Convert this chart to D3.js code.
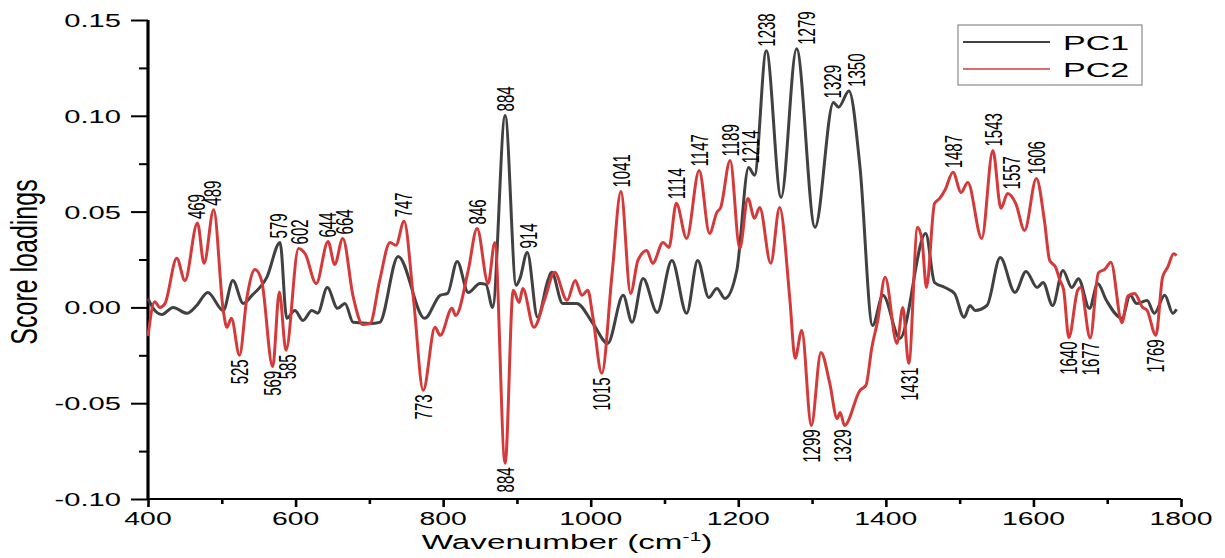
<!DOCTYPE html>
<html>
<head>
<meta charset="utf-8">
<script src="https://cdn.jsdelivr.net/npm/d3@7"></script>
<style>
  html, body { margin: 0; padding: 0; background: #fff; }
  svg { display: block; font-family: "Liberation Sans", Arial, sans-serif; }
</style>
</head>
<body>
<svg id="chart" width="1225" height="558"></svg>
<script>
// Loadings of the first two principal components across the spectrum
const pc1Points = [
  [400,0.0047],[407,-0.0005],[419,-0.0037],[434,0.0],[453,-0.0031],[466,0.001],[481,0.0078],
  [502,-0.0016],[515,0.0141],[529,0.0021],[541,0.0063],[561,0.0157],[579,0.0339],[588,-0.0057],
  [599,-0.0016],[610,-0.0068],[622,-0.0016],[630,-0.003],[643,0.0104],[657,-0.0005],[667,0.0021],
  [678,-0.0078],[701,-0.0084],[714,-0.0078],[739,0.0266],[775,-0.0057],[796,0.0063],[806,0.0073],
  [819,0.024],[834,0.0078],[850,0.0125],[858,0.012],[867,0.0],[884,0.1002],[899,0.0115],[904,0.015],
  [914,0.0287],[928,-0.0052],[942,0.0141],[947,0.0183],[962,0.0021],[981,0.0021],[1003,-0.0084],
  [1023,-0.0188],[1044,0.0063],[1056,-0.0078],[1071,0.0151],[1090,-0.0026],[1110,0.0245],
  [1130,-0.0031],[1145,0.0245],[1160,0.0052],[1171,0.0099],[1182,0.0047],[1198,0.0193],
  [1214,0.073],[1222,0.069],[1238,0.134],[1258,0.0574],[1279,0.135],[1304,0.0418],[1329,0.107],
  [1336,0.1045],[1350,0.113],[1365,0.073],[1382,-0.0094],[1396,0.0063],[1419,-0.0162],[1454,0.0386],
  [1466,0.013],[1480,0.0104],[1493,0.0073],[1506,-0.0052],[1514,0.001],[1521,-0.0016],[1537,0.001],
  [1555,0.026],[1575,0.0078],[1590,0.0188],[1605,0.0104],[1613,0.013],[1626,0.001],[1640,0.0193],
  [1652,0.0104],[1661,0.015],[1676,-0.0005],[1687,0.0125],[1699,0.0036],[1720,-0.0057],[1731,0.0063],
  [1740,0.002],[1754,0.0036],[1764,-0.0031],[1778,0.0063],[1789,-0.0031],[1794,-0.001]
];

const pc2Points = [
  [400,-0.015],[409,0.003],[416,0.0],[423,0.002],[439,0.0256],[450,0.014],[467,0.044],[476,0.023],
  [489,0.051],[502,-0.0016],[507,-0.0104],[513,-0.0057],[524,-0.025],[534,0.005],[545,0.0198],
  [554,0.014],[569,-0.031],[578,0.008],[587,-0.0224],[604,0.0308],[613,0.028],[628,0.0125],
  [644,0.0344],[653,0.0224],[664,0.036],[678,0.0057],[691,-0.0089],[701,-0.0084],[714,0.0141],
  [728,0.0339],[736,0.0324],[747,0.0449],[760,0.0037],[773,-0.0433],[789,-0.0104],[796,-0.0146],
  [812,-0.0005],[817,-0.0042],[834,0.0193],[846,0.0412],[861,0.0125],[870,0.0339],[884,-0.0814],
  [895,0.0089],[903,0.0026],[908,0.0099],[923,-0.0104],[938,0.0047],[951,0.0183],[968,0.0037],
  [979,0.0141],[988,0.0063],[996,0.0089],[1003,-0.0052],[1015,-0.0344],[1029,0.0177],[1041,0.0605],
  [1054,0.0073],[1064,0.0245],[1076,0.0297],[1084,0.023],[1098,0.0339],[1106,0.0313],[1116,0.0543],
  [1130,0.036],[1147,0.0715],[1161,0.0386],[1171,0.0496],[1176,0.052],[1189,0.0767],[1202,0.0308],
  [1213,0.0569],[1222,0.0465],[1229,0.0522],[1244,0.023],[1256,0.0522],[1270,0.0037],[1277,-0.0266],
  [1286,-0.012],[1299,-0.0616],[1312,-0.0235],[1324,-0.0397],[1334,-0.058],[1338,-0.0548],
  [1344,-0.0616],[1365,-0.0433],[1373,-0.0407],[1381,-0.0209],[1389,-0.0068],[1399,0.0157],
  [1415,-0.0188],[1423,0.0],[1431,-0.0292],[1443,0.0418],[1449,0.035],[1455,0.0104],[1466,0.0543],
  [1473,0.0569],[1480,0.0611],[1491,0.0705],[1502,0.06],[1511,0.0652],[1530,0.036],[1545,0.0819],
  [1556,0.0517],[1565,0.0595],[1576,0.0543],[1588,0.0402],[1604,0.0673],[1615,0.045],[1622,0.0245],
  [1630,0.021],[1636,0.014],[1641,0.009],[1648,-0.0157],[1660,0.009],[1664,0.0104],[1677,-0.016],
  [1688,0.018],[1697,0.02],[1705,0.0235],[1720,-0.008],[1728,0.006],[1737,0.0073],[1748,0.0],
  [1754,-0.0016],[1766,-0.0146],[1775,0.0157],[1782,0.021],[1790,0.028],[1794,0.027]
];

// Peak annotations: [text, wavenumber where the label sits, series]
const pc1PeakLabels = [
  ["579",577,"pc1"],["884",884,"pc1"],["914",916,"pc1"],["1214",1217,"pc1"],["1238",1239,"pc1"],
  ["1279",1292,"pc1"],["1329",1328,"pc1"],["1350",1360,"pc1"]
];
const pc2PeakLabels = [
  ["469",466,"pc2"],["489",488,"pc2"],["602",605,"pc2"],["644",644,"pc2"],["664",666,"pc2"],
  ["747",747,"pc2"],["846",846,"pc2"],["1041",1042,"pc2"],["1114",1117,"pc2"],["1147",1147,"pc2"],
  ["1189",1190,"pc2"],["1487",1492,"pc2"],["1543",1546,"pc2"],["1557",1570,"pc2"],["1606",1604,"pc2"]
];
const pc2TroughLabels = [
  ["525",524,"pc2"],["569",569,"pc2"],["585",589,"pc2"],["773",773,"pc2"],["884",884,"pc2"],
  ["1015",1015,"pc2"],["1299",1299,"pc2"],["1329",1341,"pc2"],["1431",1432,"pc2"],
  ["1640",1648,"pc2"],["1677",1677,"pc2"],["1769",1766,"pc2"]
];

const xMajorTicks = [400, 600, 800, 1000, 1200, 1400, 1600, 1800];
const xMinorTicks = [500, 700, 900, 1100, 1300, 1500, 1700];
const yMajorTicks = [-0.10, -0.05, 0.00, 0.05, 0.10, 0.15];
const yMinorTicks = [-0.075, -0.025, 0.025, 0.075, 0.125];
const seriesNames = ["PC1", "PC2"];

const COLORS = { pc1: "#414141", pc2: "#d53a3b" };
const SX = 1.62; // horizontal glyph stretch used for every text

const svg = d3.select("#chart");
const x = d3.scaleLinear().domain([400, 1800]).range([148, 1181]);
const y = d3.scaleLinear().domain([-0.10, 0.15]).range([499, 20]);

// ---- axes ----
const axisG = svg.append("g");
const xAxisG = axisG.append("g").attr("transform", `translate(0,${y(-0.10)})`);
xAxisG.call(d3.axisBottom(x).tickValues(xMajorTicks).tickSize(8).tickFormat(""));
xAxisG.append("g").call(d3.axisBottom(x).tickValues(xMinorTicks).tickSize(5).tickFormat(""));
xAxisG.selectAll(".domain").remove();
xAxisG.selectAll(".tick line").attr("stroke", "#000").attr("stroke-width", 2.6);
axisG.append("line")
  .attr("x1", x(400)).attr("x2", x(1800)).attr("y1", y(-0.10)).attr("y2", y(-0.10))
  .attr("stroke", "#000").attr("stroke-width", 2);

const yAxisG = axisG.append("g").attr("transform", `translate(${x(400)},0)`);
yAxisG.call(d3.axisLeft(y).tickValues(yMajorTicks).tickSize(17).tickFormat(""));
yAxisG.append("g").call(d3.axisLeft(y).tickValues(yMinorTicks).tickSize(9).tickFormat(""));
yAxisG.selectAll(".domain").remove();
yAxisG.selectAll(".tick line").attr("stroke", "#000").attr("stroke-width", 2);
axisG.append("line")
  .attr("x1", x(400)).attr("x2", x(400)).attr("y1", y(0.15)).attr("y2", y(-0.10) + 1)
  .attr("stroke", "#000").attr("stroke-width", 3.2);

// tick labels
axisG.selectAll(".xlab").data(xMajorTicks).join("text")
  .attr("class", "xlab")
  .attr("transform", d => `translate(${x(d)},525) scale(${SX},1)`)
  .attr("text-anchor", "middle").attr("font-size", 17.5).attr("fill", "#000")
  .text(d => d);
axisG.selectAll(".ylab").data(yMajorTicks).join("text")
  .attr("class", "ylab")
  .attr("transform", d => `translate(121,${y(d) + 7}) scale(${SX},1)`)
  .attr("text-anchor", "end").attr("font-size", 18).attr("fill", "#000")
  .text(d => d.toFixed(2));

// axis titles
const xTitle = svg.append("text")
  .attr("transform", `translate(567,549) scale(${SX},1)`)
  .attr("text-anchor", "middle").attr("font-size", 20.5).attr("fill", "#000");
xTitle.append("tspan").text("Wavenumber (cm");
xTitle.append("tspan").attr("font-size", 13).attr("dy", -8).text("-1");
xTitle.append("tspan").attr("dy", 8).text(")");

svg.append("text")
  .attr("transform", `translate(37,262) scale(1.5,1) rotate(-90)`)
  .attr("text-anchor", "middle").attr("font-size", 25).attr("fill", "#000")
  .text("Score loadings");

// ---- curves ----
const line = d3.line().x(d => x(d[0])).y(d => y(d[1])).curve(d3.curveMonotoneX);
const series = { pc1: pc1Points, pc2: pc2Points };
svg.append("path").datum(pc1Points).attr("d", line)
  .attr("fill", "none").attr("stroke", COLORS.pc1).attr("stroke-width", 3).attr("stroke-linejoin", "round");
svg.append("path").datum(pc2Points).attr("d", line)
  .attr("fill", "none").attr("stroke", COLORS.pc2).attr("stroke-width", 3).attr("stroke-linejoin", "round");

// ---- peak labels ----
function localExtreme(pts, wn, mode) {
  const near = pts.filter(p => Math.abs(p[0] - wn) <= 14);
  return mode === "max" ? d3.max(near, p => p[1]) : d3.min(near, p => p[1]);
}
const labG = svg.append("g").attr("font-size", 15).attr("fill", "#000");
function drawLabels(list, side) {
  labG.selectAll(null).data(list).join("text")
    .attr("transform", d => {
      const v = localExtreme(series[d[2]], d[1], side === "up" ? "max" : "min");
      const yy = side === "up" ? y(v) - 4 : y(v) + 4;
      return `translate(${x(d[1])},${yy}) scale(${SX},1) rotate(-90)`;
    })
    .attr("text-anchor", side === "up" ? "start" : "end")
    .attr("dominant-baseline", "central")
    .text(d => d[0]);
}
drawLabels(pc1PeakLabels, "up");
drawLabels(pc2PeakLabels, "up");
drawLabels(pc2TroughLabels, "down");

// ---- legend ----
const leg = svg.append("g");
leg.append("rect").attr("x", 958).attr("y", 25).attr("width", 184).attr("height", 60)
  .attr("fill", "#fff").attr("stroke", "#8a8a8a").attr("stroke-width", 1.2);
const legKeys = ["pc1", "pc2"];
legKeys.forEach((k, i) => {
  const cy = 42 + i * 27;
  leg.append("line").attr("x1", 963).attr("x2", 1050).attr("y1", cy).attr("y2", cy)
    .attr("stroke", COLORS[k]).attr("stroke-width", i === 0 ? 2.2 : 1.6);
  leg.append("text").attr("transform", `translate(1063,${cy + 8}) scale(${SX},1)`)
    .attr("font-size", 21).attr("fill", "#000").text(seriesNames[i]);
});
</script>
</body>
</html>
